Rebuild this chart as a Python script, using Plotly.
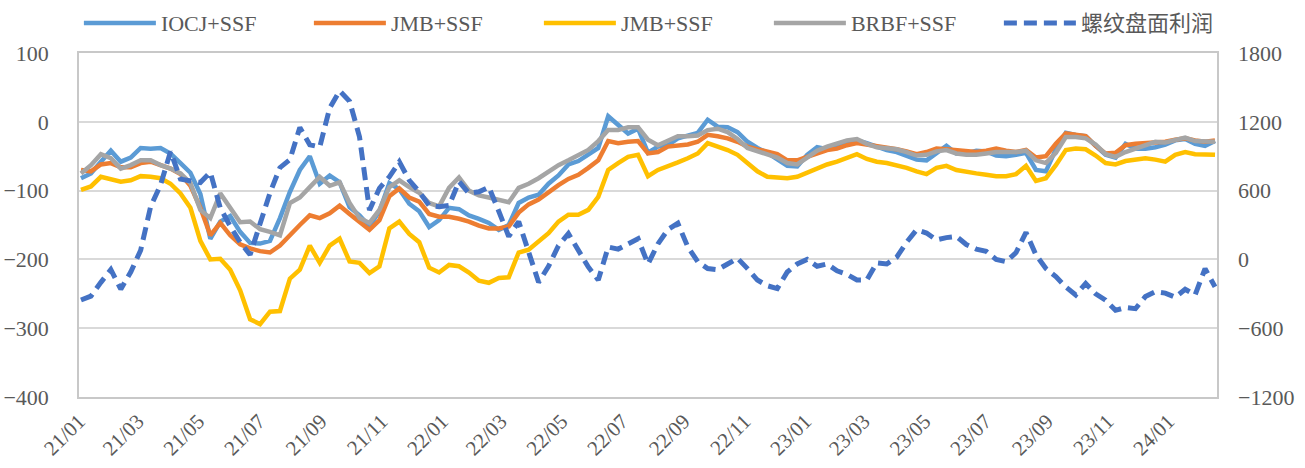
import pandas as pd
import plotly.graph_objects as go

# sampling dates (every 10 days)
dates = pd.date_range("2021-01-03", periods=115, freq="10D")

iocj_ssf = [
    -82, -75, -58, -42, -58, -52, -38, -39, -38, -46, -60, -74, -105, -170, -145, -137, -160, -176, -177, -173,
    -140, -102, -70, -50, -90, -78, -88, -124, -136, -152, -130, -89, -98, -119, -130, -153, -143,
    -125, -127, -136, -141, -147, -157, -150, -118, -110, -106, -90, -78, -62, -57, -47, -38, 8, -5, -17, -10,
    -45, -36, -34, -24, -20, -16, 3, -7, -8, -15, -29, -38, -45, -55, -64, -65, -48, -37,
    -40, -36, -31, -27, -31, -36, -41, -44, -49, -55, -56, -45, -35, -46, -46, -42, -43, -49, -50, -48,
    -45, -70, -72, -40, -16, -19, -21, -35, -48, -52, -32, -39, -39, -37, -33, -27, -25, -32, -35, -28,
]
jmb_ssf_orange = [
    -70, -72, -62, -60, -66, -66, -60, -58, -63, -68, -76, -93, -125, -165, -147, -165, -178, -184, -188, -190,
    -180, -164, -150, -136, -140, -133, -122, -134, -146, -157, -143, -108, -97, -110, -116, -134, -138,
    -138, -141, -145, -151, -155, -155, -152, -132, -120, -113, -102, -92, -83, -77, -67, -56, -28, -31, -29, -28,
    -46, -44, -36, -34, -33, -29, -19, -21, -24, -29, -36, -40, -43, -47, -56, -56, -51, -46,
    -41, -39, -34, -31, -33, -35, -37, -40, -43, -47, -44, -39, -40, -41, -42, -44, -42, -39, -42, -44,
    -41, -52, -50, -32, -17, -19, -21, -35, -46, -45, -34, -32, -31, -30, -29, -26, -24, -27, -29, -27,
]
jmb_ssf_yellow = [
    -99, -94, -80, -84, -87, -85, -79, -80, -82, -90, -104, -125, -173, -200, -199, -215, -245, -287, -294, -276,
    -275, -228, -215, -180, -205, -180, -170, -203, -205, -220, -210, -155, -145, -163, -175, -212, -219,
    -208, -210, -219, -231, -234, -227, -226, -190, -186, -175, -162, -145, -135, -135, -128, -109, -70, -60, -51, -48,
    -79, -70, -65, -59, -53, -46, -31, -36, -41, -48, -60, -72, -80, -81, -82, -80, -74, -68,
    -62, -58, -53, -47, -54, -58, -60, -63, -67, -72, -76, -67, -64, -70, -73, -75, -77, -79, -79, -76,
    -64, -86, -82, -63, -41, -39, -40, -49, -60, -62, -57, -55, -53, -55, -58, -48, -44, -47, -48, -48,
]
brbf_ssf = [
    -75, -63, -47, -53, -68, -63, -56, -56, -63, -68, -75, -89, -128, -140, -104, -126, -146, -145, -156, -160,
    -165, -118, -110, -95, -80, -93, -88, -118, -140, -147, -128, -95, -85, -95, -103, -118, -123,
    -96, -81, -100, -107, -110, -114, -117, -96, -90, -82, -72, -63, -56, -48, -41, -28, -12, -12, -8, -8,
    -26, -34, -27, -21, -21, -20, -12, -10, -15, -25, -38, -43, -47, -52, -60, -62, -52, -42,
    -36, -31, -27, -25, -32, -37, -39, -40, -44, -49, -48, -43, -41, -46, -48, -48, -46, -44, -44, -44,
    -42, -56, -60, -45, -22, -22, -24, -33, -47, -51, -44, -39, -34, -29, -30, -27, -23, -28, -29, -29,
]
rebar_profit = [
    -354, -320, -200, -90, -260, -110, 80, 460, 650, 940, 700, 680, 670, 760, 450, 290, 150, 40, 320, 580,
    800, 870, 1150, 1000, 980, 1320, 1470, 1380, 1068, 430, 620, 720, 850, 690, 590, 470, 460,
    470, 680, 576, 590, 630, 420, 200, 330, 80, -200, -60, 120, 225, 80, -66, -180, 108, 90, 138, 180,
    -40, 135, 260, 315, 110, -20, -80, -90, -40, 10, -80, -180, -230, -255, -110, -40, 0, -60,
    -40, -100, -130, -180, -180, -30, -40, 20, 150, 258, 230, 170, 190, 200, 130, 90, 70, 0, -20, 60,
    235, 40, -80, -150, -240, -310, -210, -300, -355, -444, -420, -430, -324, -282, -294, -330, -260, -310, -80, -240,
]

names = ["IOCJ+SSF", "JMB+SSF", "JMB+SSF", "BRBF+SSF", "螺纹盘面利润"]
colors = ["#5B9BD5", "#ED7D31", "#FFC000", "#A5A5A5", "#4472C4"]

fig = go.Figure()
for vals, name, col in zip([iocj_ssf, jmb_ssf_orange, jmb_ssf_yellow, brbf_ssf], names[:4], colors[:4]):
    fig.add_trace(go.Scatter(x=dates, y=vals, name=name, mode="lines",
                             line=dict(color=col, width=4.5)))
fig.add_trace(go.Scatter(x=dates, y=rebar_profit, name=names[4], mode="lines", yaxis="y2",
                         line=dict(color=colors[4], width=5, dash="13px,7px")))

font_family = "Liberation Serif, 'Noto Sans CJK SC', serif"
axis_line = "#C8C8C8"
fig.update_layout(
    width=1305, height=468,
    margin=dict(l=79, r=88, t=53, b=71, autoexpand=False),
    paper_bgcolor="white", plot_bgcolor="white",
    font=dict(family=font_family, size=22, color="#595959"),
    showlegend=True,
    legend=dict(orientation="h", x=-0.0001, xanchor="left", y=1.148, yanchor="top",
                itemwidth=72, entrywidth=143, entrywidthmode="pixels",
                font=dict(family=font_family, size=22, color="#595959"),
                bgcolor="rgba(0,0,0,0)", tracegroupgap=0),
    xaxis=dict(type="date", range=["2021-01-01", "2024-02-19"], tickformat="%y/%m",
               dtick="M2", tick0="2021-01-01", tickangle=-45, showgrid=False,
               showline=True, linecolor=axis_line, linewidth=1.5, mirror=True,
               ticks="", ticklabelstandoff=2, zeroline=False, automargin=False,
               tickfont=dict(size=21)),
    yaxis=dict(range=[-400, 100], dtick=100, tick0=0, gridcolor="#D9D9D9", gridwidth=1.5,
               zeroline=False, showline=True, linecolor=axis_line, linewidth=1.5, mirror=True,
               ticks="", ticklabelstandoff=24, automargin=False),
    yaxis2=dict(range=[-1200, 1800], dtick=600, tick0=0, overlaying="y", side="right",
                showgrid=False, zeroline=False, showline=False, ticks="", ticklabelstandoff=20,
                automargin=False),
)

fig.write_html("out.html", config={"displayModeBar": False},
               post_script="document.body.style.margin='0';document.body.style.overflow='hidden';")
